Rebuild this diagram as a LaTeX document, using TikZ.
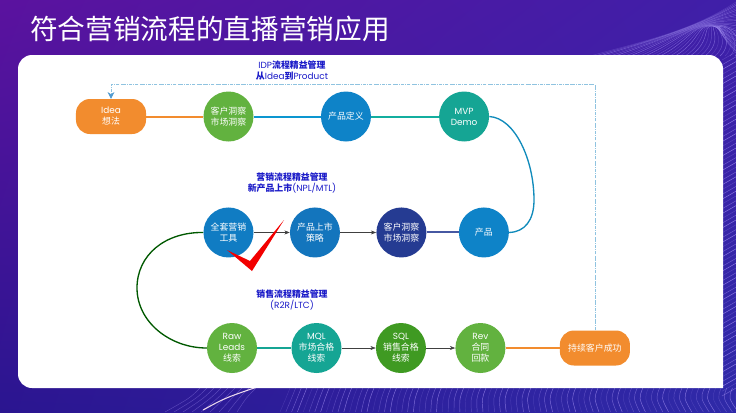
\documentclass[tikz,border=0pt]{standalone}
\usepackage{fontspec}
\setmainfont{Poppins}
\newfontfamily\cjk{Noto Sans CJK SC}
\newcommand{\hz}[1]{{\cjk\bfseries #1}}
\usetikzlibrary{arrows.meta, positioning, shadings}
\definecolor{bgtl}{HTML}{5B129F}
\definecolor{bgtr}{HTML}{3F1FA8}
\definecolor{bgbl}{HTML}{2A1590}
\definecolor{bgbr}{HTML}{2F2AA8}
\definecolor{orangebox}{HTML}{F28C2E}
\definecolor{greenbox}{HTML}{62B23F}
\definecolor{bluebox}{HTML}{0E83C8}
\definecolor{tealbox}{HTML}{15A594}
\definecolor{navybox}{HTML}{253B92}
\definecolor{darkgreen}{HTML}{3F9A22}
\definecolor{titleblue}{HTML}{1A1AC8}
\definecolor{dashblue}{HTML}{8FC3E0}
\definecolor{tipblue}{HTML}{4F9AD0}
\definecolor{streakviolet}{HTML}{A08CF0}

\begin{document}
\begin{tikzpicture}[
    x=0.03cm, y=-0.03cm,
    stage/.style={circle, minimum size=1.5cm, inner sep=0pt, align=center, text=white, font=\fontsize{7.6}{9.4}\selectfont\cjk},
    pill/.style={rectangle, rounded corners=0.42cm, minimum width=2.1cm, minimum height=1.05cm, inner sep=0pt, align=center, text=white, fill=orangebox, font=\fontsize{7.6}{9.4}\selectfont\cjk},
    link/.style={line width=0.06cm},
    arrow/.style={-{Stealth[length=1.6mm]}, line width=0.4pt, draw=black!75},
    curve/.style={line width=0.04cm},
    groupname/.style={align=center, text=titleblue, font=\fontsize{7.6}{9.4}\selectfont},
    streak/.style={draw=streakviolet, line width=0.4pt}
]

% Background and streaks
\shade[upper left=bgtl, upper right=bgtr, lower left=bgbl, lower right=bgbr] (0,0) rectangle (736,412);
\begin{scope}
\clip (0,0) rectangle (736,412);
\foreach \i in {0,...,30} {
    \pgfmathsetmacro{\streakop}{0.25+0.35*mod(\i,3)/2}
    \draw[streak, opacity=\streakop] (590+\i*5,56) .. controls (640+\i*4,42-\i*0.3) and (690,32-\i) .. (736,\i*1.7+2);
}
\foreach \i in {0,...,70} {
    \pgfmathsetmacro{\streakop}{0.3+0.5*mod(\i,3)/2}
    \draw[streak, opacity=\streakop] (722,60+\i*4.8) -- (736,52+\i*4.8);
}
\foreach \i in {0,...,80} {
    \pgfmathsetmacro{\streakop}{0.2+0.5*mod(\i,4)/3}
    \draw[streak, opacity=\streakop] (290+\i*5.6,388) .. controls (286+\i*5.6,398) .. (280+\i*5.8,412);
}
\foreach \i in {0,...,8} {
    \draw[streak, opacity=0.4] (200+\i*7,388) .. controls (190+\i*7,398) .. (165+\i*9,412);
}
\draw[white!85!violet, line width=0.9pt] (203,410) .. controls (225,398) .. (257,387);
\end{scope}

% Panel
\fill[white] (723,388) [rounded corners=0.42cm] -- (18,388) -- (18,55) -- (723,55) [sharp corners] -- cycle;

% Title
\node[anchor=west, inner sep=0pt, text=white, font=\fontsize{23.6}{26}\selectfont\cjk] (title) at (30,29) {符合营销流程的直播营销应用};

% Row 1: from the idea to the demo
\node[pill, minimum width=2.1cm] (idea) at (111,116.5) {{\rmfamily Idea}\\想法};
\node[stage, fill=greenbox, right=1.71cm of idea] (insight) {客户洞察\\市场洞察};
\node[stage, fill=bluebox, right=2.01cm of insight] (define) {产品定义};
\node[stage, fill=tealbox, right=2.03cm of define] (mvp) {{\rmfamily MVP}\\{\rmfamily Demo}};

% Row 2: launch
\node[stage, fill=bluebox!90!navybox, below=1.965cm of insight] (tools) {全套营销\\工具};
\node[stage, fill=bluebox!80!navybox, right=1.08cm of tools] (launch) {产品上市\\策略};
\node[stage, fill=navybox, right=1.08cm of launch] (market) {客户洞察\\市场洞察};
\node[stage, fill=bluebox, right=0.96cm of market] (product) {产品};

% Row 3: sales
\node[stage, fill=greenbox] (raw) at (232,348) {{\rmfamily Raw}\\{\rmfamily Leads}\\线索};
\node[stage, fill=tealbox, right=1.02cm of raw] (mql) {{\rmfamily MQL}\\市场合格\\线索};
\node[stage, fill=darkgreen, right=1.02cm of mql] (sql) {{\rmfamily SQL}\\销售合格\\线索};
\node[stage, fill=greenbox, right=0.87cm of sql] (rev) {{\rmfamily Rev}\\合同\\回款};
\node[pill, right=1.62cm of rev] (success) {持续客户成功};

% Group names
\node[groupname] (idp) at (292,71) {IDP\hz{流程精益管理}\\\hz{从}Idea\hz{到}Product};
\node[groupname] (npl) at (292,183) {\hz{营销流程精益管理}\\\hz{新产品上市}(NPL/MTL)};
\node[groupname] (ltc) at (292,300) {\hz{销售流程精益管理}\\(R2R/LTC)};

% Row 1 links
\draw[link, orangebox] (idea) -- (insight);
\draw[link, bluebox!85!cyan] (insight) -- (define);
\draw[link, tealbox!90!cyan] (define) -- (mvp);

% Row 2 links
\draw[arrow] (tools) -- (launch);
\draw[arrow] (launch) -- (market);
\draw[link, navybox!85!white] (market) -- (product);

% Row 3 links
\draw[link, tealbox] (raw) -- (mql);
\draw[arrow] (mql) -- (sql);
\draw[arrow] (sql) -- (rev);
\draw[link, orangebox] (rev) -- (success);

% Curves between rows
\draw[curve, draw=bluebox!75!tealbox] (mvp.east) .. controls (515,118) and (534,160) .. (534,200) .. controls (534,220) and (525,232) .. (product.east);
\draw[curve, draw=green!35!black] (tools.west) .. controls (165,232) and (137,255) .. (137,288) .. controls (137,322) and (170,348) .. (raw.west);

% Dashed loop back to the idea
\coordinate (looptop) at (111,84.5);
\draw[densely dashdotted, draw=dashblue, line width=0.5pt, -{Stealth[length=2mm, width=2mm, color=tipblue, fill=tipblue]}] (success.north) -- (success.north |- looptop) -- (looptop) -- (idea.north);

% Check mark
\fill[red!95!black] (227,250) -- (252,271) -- (284,220) -- (250,261) -- cycle;

\end{tikzpicture}
\end{document}
